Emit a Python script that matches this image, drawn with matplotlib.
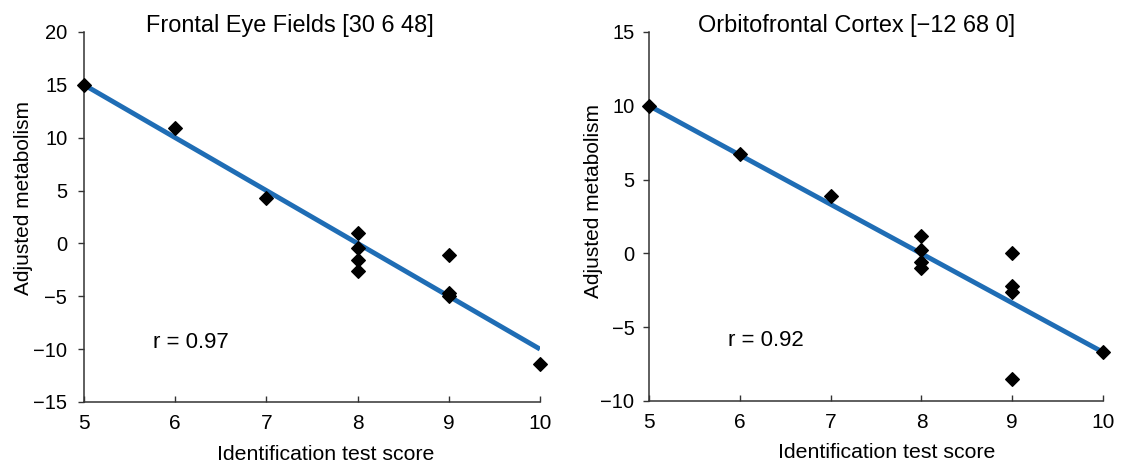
import matplotlib.pyplot as plt

plt.rcParams["font.family"] = ["Liberation Sans", "DejaVu Sans"]

# Frontal Eye Fields panel
fef_title = "Frontal Eye Fields [30 6 48]"
fef_score = [5, 6, 7, 8, 8, 8, 8, 9, 9, 9, 10]
fef_metab = [15.0, 10.9, 4.3, 1.0, -0.4, -1.6, -2.6, -1.1, -4.7, -5.0, -11.4]
fef_fit_x = [5, 10]
fef_fit_y = [15.0, -10.0]
fef_r = "r = 0.97"
fef_yticks = [-15, -10, -5, 0, 5, 10, 15, 20]

# Orbitofrontal Cortex panel
ofc_title = "Orbitofrontal Cortex [\u221212 68 0]"
ofc_score = [5, 6, 7, 8, 8, 8, 8, 9, 9, 9, 9, 10]
ofc_metab = [10.0, 6.7, 3.9, 1.2, 0.25, -0.6, -1.0, 0.0, -2.2, -2.6, -8.5, -6.7]
ofc_fit_x = [5, 10]
ofc_fit_y = [10.0, -6.7]
ofc_r = "r = 0.92"
ofc_yticks = [-10, -5, 0, 5, 10, 15]

xticks = [5, 6, 7, 8, 9, 10]


def fmt(v):
    return str(v).replace("-", "\u2212")


def draw_panel(ax, title, xs, ys, fx, fy, rtext, rpos, yticks, title_x,
               xlab_x, ylab_x, ylab_y, ypad):
    ax.plot(fx, fy, color="#1f6db5", lw=3.5, solid_capstyle="butt", zorder=2)
    ax.scatter(xs, ys, marker="D", s=48, color="black", zorder=3, clip_on=False)
    ax.set_xlim(5, 10)
    ax.set_ylim(yticks[0], yticks[-1])
    ax.set_xticks(xticks)
    ax.set_xticklabels([fmt(v) for v in xticks])
    ax.set_yticks(yticks)
    ax.set_yticklabels([fmt(v) for v in yticks])
    for side in ["top", "right"]:
        ax.spines[side].set_visible(False)
    for side in ["left", "bottom"]:
        ax.spines[side].set_color("#333333")
        ax.spines[side].set_linewidth(1.1)
    ax.tick_params(axis="y", direction="out", length=4, width=1, color="#333333",
                   labelsize=14.5, pad=ypad)
    ax.tick_params(axis="x", direction="in", length=4, width=1, color="#333333",
                   labelsize=15, pad=8.5)
    ax.set_xlabel("Identification test score", fontsize=15.3)
    ax.xaxis.set_label_coords(xlab_x, -0.115)
    ax.set_ylabel("Adjusted metabolism", fontsize=15)
    ax.yaxis.set_label_coords(ylab_x, ylab_y)
    ax.text(title_x, 1.0, title, transform=ax.transAxes, ha="center",
            va="baseline", fontsize=16.9)
    ax.text(rpos[0], rpos[1], rtext, ha="left", va="center", fontsize=16)


fig = plt.figure(figsize=(11.24, 4.69), dpi=100)
ax1 = fig.add_axes([0.0747, 0.1429, 0.4057, 0.789])
ax2 = fig.add_axes([0.5774, 0.145, 0.404, 0.787])

draw_panel(ax1, fef_title, fef_score, fef_metab, fef_fit_x, fef_fit_y,
           fef_r, (5.76, -9.4), fef_yticks, 0.452, 0.53, -0.111, 0.551, 8)
draw_panel(ax2, ofc_title, ofc_score, ofc_metab, ofc_fit_x, ofc_fit_y,
           ofc_r, (5.87, -5.87), ofc_yticks, 0.458, 0.524, -0.102, 0.542, 6.5)

fig.savefig("out.png", dpi=100)
